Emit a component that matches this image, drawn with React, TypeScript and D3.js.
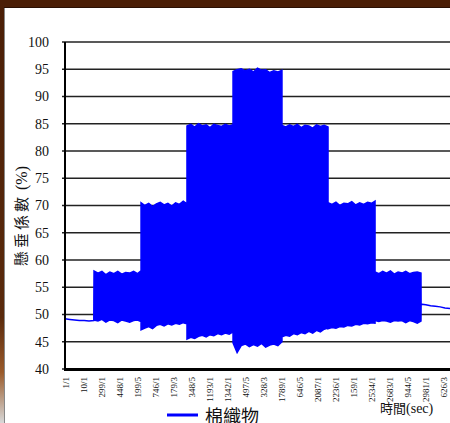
import React from 'react';
import * as d3 from 'd3';

// envelope of the oscillating signal (sample index, upper, lower)
const envT = [
  0, 40, 80, 120, 160, 200, 240,
  242, 275, 308, 341, 374, 407, 440, 473, 506, 539, 572, 605, 634,
  634, 666, 698, 730, 762, 794, 826, 858, 890, 922, 954, 986, 1017,
  1017, 1049, 1081, 1113, 1145, 1177, 1209, 1241, 1273, 1305, 1337, 1369, 1401,
  1401, 1435, 1469, 1503, 1537, 1571, 1605, 1639, 1673, 1707, 1741, 1775, 1809,
  1809, 1841, 1873, 1905, 1937, 1969, 2001, 2033, 2065, 2097, 2129, 2161, 2193,
  2193, 2226, 2259, 2292, 2325, 2358, 2391, 2424, 2457, 2490, 2523, 2556, 2585,
  2585, 2617, 2649, 2681, 2713, 2745, 2777, 2809, 2841, 2873, 2905, 2937, 2968,
  2969, 3008, 3048, 3088, 3128, 3168, 3210,
];
const envHi = [
  49.2, 49.1, 49.0, 48.9, 48.9, 48.8, 48.9,
  58.0, 57.6, 57.9, 57.3, 57.8, 57.5, 57.9, 57.4, 57.7, 57.6, 57.9, 57.5, 58.0,
  70.5, 70.0, 70.4, 69.8, 70.3, 70.6, 70.1, 70.4, 69.9, 70.5, 70.2, 70.8, 70.3,
  84.6, 84.9, 84.4, 85.0, 84.6, 84.8, 84.3, 84.9, 84.7, 84.5, 84.9, 84.6, 84.8,
  94.6, 94.9, 95.1, 94.7, 95.0, 94.5, 95.2, 94.8, 94.9, 94.4, 94.7, 94.5, 94.8,
  84.7, 84.4, 84.8, 84.5, 84.9, 84.3, 84.7, 84.6, 84.2, 84.8, 84.5, 84.7, 84.4,
  70.5, 70.2, 70.6, 70.0, 70.4, 70.3, 70.7, 70.1, 70.5, 70.2, 70.6, 70.4, 70.8,
  57.8, 57.5, 57.9, 57.6, 58.0, 57.4, 57.8, 57.6, 57.9, 57.5, 57.7, 57.8, 57.6,
  51.9, 51.8, 51.6, 51.5, 51.4, 51.2, 51.1,
];
const envLo = [
  49.2, 49.1, 49.0, 48.9, 48.9, 48.8, 48.9,
  49.0, 48.8, 49.1, 48.6, 49.0, 48.9, 48.5, 49.0, 48.8, 48.6, 48.9, 49.0, 48.7,
  47.2, 47.5, 47.8, 47.4, 48.0, 48.2, 47.9, 48.3, 48.1, 48.4, 48.2, 48.5, 48.3,
  45.5, 45.8, 45.6, 46.0, 46.2, 45.9, 46.3, 46.1, 46.5, 46.3, 46.6, 46.4, 46.8,
  44.8, 43.0, 44.3, 44.6, 44.1, 44.5, 44.2, 44.7, 44.0, 44.4, 44.6, 44.3, 45.0,
  45.9, 46.2, 46.0, 46.5, 46.3, 46.7, 46.5, 46.9, 46.6, 47.1, 46.8, 47.3, 47.5,
  47.4, 47.6, 47.5, 47.8, 47.7, 48.0, 47.9, 48.2, 48.1, 48.4, 48.3, 48.5, 48.4,
  48.9, 48.7, 48.9, 48.8, 48.6, 48.9, 48.8, 48.9, 48.5, 48.9, 48.7, 48.4, 48.8,
  51.9, 51.8, 51.6, 51.5, 51.4, 51.2, 51.1,
];

const xLabels = [
  '1/1', '10/1', '299/1', '448/1', '199/5', '746/1', '179/3', '348/5', '1193/1', '1342/1', '497/5',
  '328/3', '1789/1', '646/5', '2087/1', '2236/1', '159/1', '2534/1', '2683/1', '944/5', '2981/1', '626/3',
];
const yTicks = [40, 45, 50, 55, 60, 65, 70, 75, 80, 85, 90, 95, 100];

const W = 450;
const H = 423;
const serif = '"Liberation Serif", "Times New Roman", serif';
const cjk = '"Noto Sans CJK TC", "Noto Sans CJK SC", sans-serif';

export default function App() {
  const x = d3.scaleLinear().domain([0, 3210]).range([65, 450]);
  const y = d3.scaleLinear().domain([40, 100]).range([369, 42]);

  const pts = envT.map((t, i) => ({ t, hi: envHi[i], lo: envLo[i] }));
  const area = d3.area<{ t: number; hi: number; lo: number }>()
    .x(d => x(d.t))
    .y0(d => y(d.lo))
    .y1(d => y(d.hi));

  return (
    <svg width={W} height={H} style={{ position: 'absolute', left: 0, top: 0 }}>
      <defs>
        <linearGradient id="edge" x1="0" y1="0" x2="0" y2="1">
          <stop offset="0" stopColor="#4a1e06" />
          <stop offset="0.75" stopColor="#5a2a0c" />
          <stop offset="0.88" stopColor="#9a5a2a" />
          <stop offset="1" stopColor="#d8d8d8" />
        </linearGradient>
      </defs>
      <rect x={0} y={0} width={W} height={H} fill="#fff" />
      <rect x={0} y={0} width={W} height={8} fill="#4a1e06" />
      <line x1={0} x2={W} y1={7.5} y2={7.5} stroke="#2a1004" />
      <rect x={0} y={0} width={4} height={H} fill="url(#edge)" />
      <line x1={4.5} x2={4.5} y1={8} y2={H} stroke="#888" />

      {yTicks.map(v => (
        <g key={v}>
          <line x1={62} x2={W} y1={y(v)} y2={y(v)} stroke="#222" strokeWidth={1.3} />
          <text x={49} y={y(v)} dy="0.35em" textAnchor="end" fontFamily={serif} fontSize={14} fill="#111">
            {v}
          </text>
        </g>
      ))}

      <path d={area(pts) ?? ''} fill="#0000ff" stroke="#0000ff" strokeWidth={1.5} />

      <line x1={65} x2={65} y1={42} y2={370} stroke="#000" strokeWidth={2} />
      <line x1={64} x2={W} y1={369.5} y2={369.5} stroke="#000" strokeWidth={3} />

      {xLabels.map((l, i) => (
        <text
          key={l}
          transform={`translate(${x(i * 150) + 1},377) rotate(-90)`}
          textAnchor="end"
          dy="0.35em"
          fontFamily={serif}
          fontSize={9}
          fill="#111"
        >
          {l}
        </text>
      ))}

      <text
        transform="translate(22,216) rotate(-90)"
        textAnchor="middle"
        dy="0.35em"
        fontFamily={cjk}
        fontSize={15}
        fill="#111"
      >
        <tspan letterSpacing={3}>懸垂係數</tspan>
        <tspan fontFamily={serif} fontSize={16}> (%)</tspan>
      </text>

      <text x={380} y={413} fontFamily={cjk} fontSize={13} fill="#111">
        時間<tspan fontFamily={serif} fontSize={14}>(sec)</tspan>
      </text>

      <line x1={167} x2={198} y1={415} y2={415} stroke="#0000ff" strokeWidth={3} />
      <text x={205} y={423} fontFamily={cjk} fontSize={18} fill="#111">棉織物</text>
    </svg>
  );
}
